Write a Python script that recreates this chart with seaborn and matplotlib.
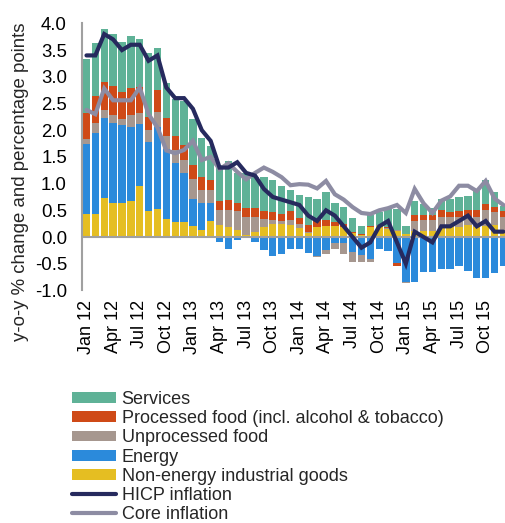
import numpy as np
import matplotlib
matplotlib.use("Agg")
import matplotlib.pyplot as plt
from matplotlib.patches import Patch
from matplotlib.lines import Line2D
import seaborn as sns
import pandas as pd

# ---------------- data (contributions, percentage points) ----------------
tick_labels = ["Jan 12", "Apr 12", "Jul 12", "Oct 12", "Jan 13", "Apr 13", "Jul 13", "Oct 13",
               "Jan 14", "Apr 14", "Jul 14", "Oct 14", "Jan 15", "Apr 15", "Jul 15", "Oct 15"]

neig = [0.43, 0.43, 0.73, 0.64, 0.64, 0.67, 0.95, 0.49, 0.53, 0.33, 0.29, 0.29,
        0.20, 0.13, 0.30, 0.22, 0.18, 0.14, 0.03, 0.10, 0.19, 0.24, 0.24, 0.22,
        0.16, 0.07, 0.19, 0.21, 0.21, 0.18, 0.07, 0.03, 0.19, 0.21, 0.15, 0.12,
        0.05, 0.11, 0.12, 0.12, 0.19, 0.22, 0.19, 0.22, 0.18, 0.20, 0.22, 0.14]

energy = [1.31, 1.51, 1.49, 1.50, 1.45, 1.39, 1.16, 1.29, 1.53, 1.31, 1.10, 0.90,
          0.52, 0.51, 0.34, -0.09, -0.23, -0.06, -0.02, -0.10, -0.25, -0.36, -0.32, -0.23,
          -0.22, -0.30, -0.35, -0.25, -0.12, -0.12, -0.28, -0.34, -0.42, -0.22, -0.26, -0.49,
          -0.84, -0.84, -0.65, -0.65, -0.60, -0.60, -0.55, -0.64, -0.77, -0.77, -0.68, -0.54]

unprocessed = [0.09, 0.19, 0.16, 0.14, 0.12, 0.22, 0.22, 0.23, 0.28, 0.26, 0.24, 0.26,
               0.37, 0.24, 0.24, 0.28, 0.33, 0.34, 0.34, 0.28, 0.14, 0.08, 0.06, 0.10,
               0.08, 0.02, -0.03, -0.06, -0.11, -0.20, -0.19, -0.12, -0.05, 0.02, 0.02, 0.02,
               -0.02, 0.19, 0.19, 0.20, 0.19, 0.16, 0.19, 0.16, 0.20, 0.30, 0.25, 0.24]

processed = [0.50, 0.51, 0.53, 0.55, 0.50, 0.51, 0.47, 0.24, 0.42, 0.32, 0.27, 0.27,
             0.25, 0.24, 0.18, 0.17, 0.18, 0.15, 0.17, 0.16, 0.16, 0.14, 0.14, 0.16,
             0.12, 0.13, 0.12, 0.10, 0.08, 0.06, 0.03, 0.03, 0.02, 0.00, 0.02, -0.05,
             0.00, 0.11, 0.11, 0.10, 0.12, 0.09, 0.11, 0.13, 0.13, 0.12, 0.09, 0.11]

services = [1.01, 1.00, 0.98, 0.98, 0.95, 0.97, 0.90, 1.19, 0.77, 0.66, 0.69, 0.83,
            0.87, 0.73, 0.64, 0.68, 0.73, 0.57, 0.66, 0.58, 0.64, 0.61, 0.51, 0.40,
            0.42, 0.52, 0.40, 0.54, 0.35, 0.33, 0.25, 0.15, 0.20, 0.23, 0.35, 0.39,
            0.16, 0.27, 0.19, 0.12, 0.22, 0.25, 0.26, 0.25, 0.37, 0.44, 0.28, 0.10]

hicp = [3.4, 3.4, 3.8, 3.7, 3.5, 3.6, 3.6, 3.3, 3.4, 2.8, 2.6, 2.6,
        2.4, 2.0, 1.8, 1.3, 1.3, 1.4, 1.2, 1.15, 0.9, 0.75, 0.7, 0.65,
        0.6, 0.4, 0.3, 0.5, 0.4, 0.2, 0.0, -0.2, -0.1, 0.2, 0.3, -0.1,
        -0.5, 0.1, 0.0, -0.1, 0.2, 0.2, 0.3, 0.4, 0.2, 0.3, 0.1, 0.1]

core = [2.38, 2.30, 2.78, 2.56, 2.56, 2.56, 2.80, 2.30, 2.05, 1.62, 1.57, 1.63,
        1.80, 1.44, 1.50, 1.27, 1.38, 1.22, 1.08, 1.20, 1.30, 1.22, 1.12, 0.97,
        0.99, 0.98, 0.91, 1.05, 0.80, 0.70, 0.56, 0.45, 0.43, 0.50, 0.54, 0.60,
        0.45, 0.90, 0.63, 0.45, 0.68, 0.76, 0.96, 0.96, 0.86, 1.05, 0.72, 0.60]

series_names = ["Non-energy industrial goods", "Energy", "Unprocessed food",
                "Processed food (incl. alcohol & tobacco)", "Services"]
series_values = [neig, energy, unprocessed, processed, services]
series_colors = ["#E5BE22", "#2B8ADB", "#A6978F", "#CF4A17", "#5FB297"]
legend_order = [4, 3, 2, 1, 0]
hicp_color = "#262A5E"
core_color = "#8D8CA3"

# ---------------- style ----------------
sns.set_theme(style="white")
plt.rcParams["font.family"] = ["Liberation Sans", "DejaVu Sans"]

fig = plt.figure(figsize=(5.05, 5.23), dpi=100)
ax = fig.add_axes([0.1614, 0.4447, 0.8386, 0.5106])

n = len(hicp)
x = np.arange(n)
pos = np.zeros(n)
neg = np.zeros(n)
for vals, col in zip(series_values, series_colors):
    v = np.asarray(vals, dtype=float)
    bottom = np.where(v >= 0, pos, neg)
    ax.bar(x, v, bottom=bottom, width=0.83, color=col, linewidth=0, zorder=2)
    pos = pos + np.where(v >= 0, v, 0)
    neg = neg + np.where(v < 0, v, 0)

df = pd.DataFrame({"x": x, "HICP inflation": hicp, "Core inflation": core})
sns.lineplot(data=df, x="x", y="Core inflation", ax=ax, color=core_color,
             linewidth=3.0, zorder=4, solid_capstyle="round", solid_joinstyle="miter")
sns.lineplot(data=df, x="x", y="HICP inflation", ax=ax, color=hicp_color,
             linewidth=3.0, zorder=5, solid_capstyle="round", solid_joinstyle="miter")

ax.axhline(0, color="#A0A0A0", linewidth=1.5, zorder=3)

ax.set_xlim(-0.56, 47.18)
ax.set_ylim(-1.0, 4.0)
ax.set_yticks(np.arange(-1.0, 4.01, 0.5))
ax.set_yticklabels([f"{v:.1f}" for v in np.arange(-1.0, 4.01, 0.5)], fontsize=13.4)
ax.set_xticks(np.arange(0, n, 3))
ax.set_xticklabels(tick_labels, rotation=90, fontsize=13)
ax.tick_params(axis="both", length=0, colors="black")
ax.tick_params(axis="y", pad=10.5)
ax.tick_params(axis="x", pad=7)

for s in ["top", "right", "bottom"]:
    ax.spines[s].set_visible(False)
ax.spines["left"].set_color("#A0A0A0")
ax.spines["left"].set_linewidth(1.5)

ax.set_xlabel("")
ax.set_ylabel("y-o-y % change and percentage points", fontsize=13.4)
ax.yaxis.set_label_coords(-0.124, 0.406)

handles = [Patch(facecolor=series_colors[i], edgecolor="none") for i in legend_order]
labels = [series_names[i] for i in legend_order]
handles += [Line2D([0], [0], color=hicp_color, lw=3, solid_capstyle="round"),
            Line2D([0], [0], color=core_color, lw=3, solid_capstyle="round")]
labels += ["HICP inflation", "Core inflation"]
fig.legend(handles, labels, loc="upper left", bbox_to_anchor=(0.1426, 1 - 391 / 523),
           frameon=False, fontsize=13, handlelength=2.45, handleheight=0.55,
           handletextpad=0.3, labelspacing=0.12, borderpad=0, borderaxespad=0)

fig.savefig("out.png", dpi=100)
